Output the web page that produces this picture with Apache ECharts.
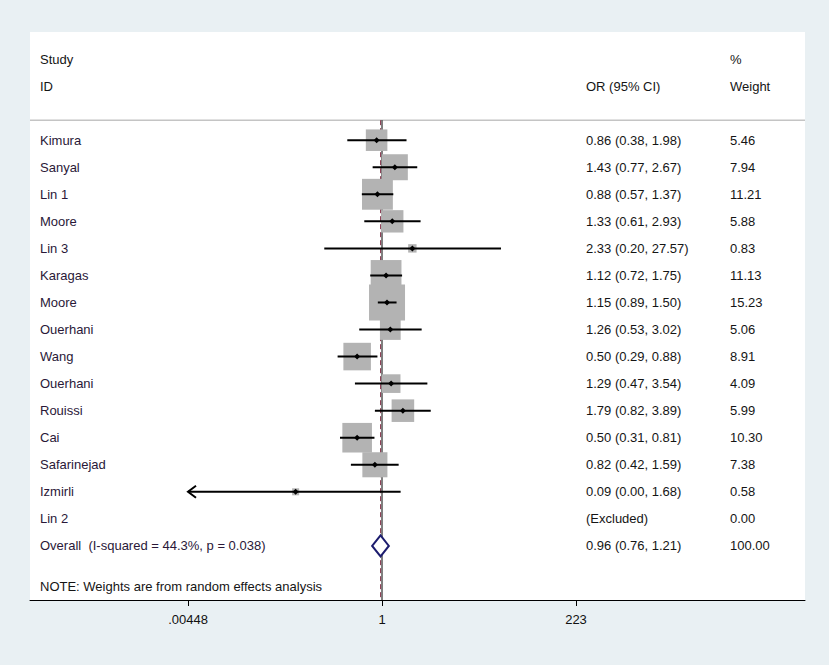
<!DOCTYPE html>
<html>
<head>
<meta charset="utf-8">
<script src="https://cdn.jsdelivr.net/npm/echarts@6/dist/echarts.min.js"></script>
<style>
html,body{margin:0;padding:0;background:#e9f0f3;}
#chart{width:829px;height:665px;}
</style>
</head>
<body>
<div id="chart"></div>
<script>
// ---- data ----
const studies = ['Kimura','Sanyal','Lin 1','Moore','Lin 3','Karagas','Moore','Ouerhani','Wang','Ouerhani','Rouissi','Cai','Safarinejad','Izmirli','Lin 2'];
const oddsRatio = [0.86,1.43,0.88,1.33,2.33,1.12,1.15,1.26,0.50,1.29,1.79,0.50,0.82,0.09,null];
const ciLower   = [0.38,0.77,0.57,0.61,0.20,0.72,0.89,0.53,0.29,0.47,0.82,0.31,0.42,0.00,null];
const ciUpper   = [1.98,2.67,1.37,2.93,27.57,1.75,1.50,3.02,0.88,3.54,3.89,0.81,1.59,1.68,null];
const weights   = [5.46,7.94,11.21,5.88,0.83,11.13,15.23,5.06,8.91,4.09,5.99,10.30,7.38,0.58,0.00];
const overallLabel = 'Overall  (I-squared = 44.3%, p = 0.038)';
const overallOR = 0.96, overallLower = 0.76, overallUpper = 1.21, overallWeight = 100.00;
const tickValues = [0.00448, 1, 223];
const tickLabels = ['.00448', '1', '223'];
const headerLeft = ['Study', 'ID'];
const headerCI = 'OR (95% CI)';
const headerWeight = ['%', 'Weight'];
const noteText = 'NOTE: Weights are from random effects analysis';

// ---- layout constants ----
const FONT = '"Liberation Sans", Arial, sans-serif';
const FS = 13;
const X_NAME = 40, X_CI = 586, X_W = 730;
const HEADER_LINE_ROW = -0.74, OVERALL_ROW = studies.length, NOTE_ROW = studies.length + 1.5;
const lg = v => Math.log10(v);
const tickLog = tickValues.map(lg);
const clipMin = tickLog[0], clipMax = tickLog[tickLog.length - 1];
const maxW = Math.max(...weights);
const X_MIN = -4.2615, X_MAX = 5.1207;

const chart = echarts.init(document.getElementById('chart'), null, {renderer: 'svg'});

function txt(t, x, y, color) {
  return {type: 'text', style: {text: t, x: x, y: y, fill: color || '#151515', fontSize: FS, fontFamily: FONT, verticalAlign: 'middle', align: 'left'}};
}
function ciString(i) {
  if (oddsRatio[i] == null) return '(Excluded)';
  return oddsRatio[i].toFixed(2) + ' (' + ciLower[i].toFixed(2) + ', ' + ciUpper[i].toFixed(2) + ')';
}

const option = {
  animation: false,
  backgroundColor: '#e9f0f3',
  grid: {left: 30, right: 24, top: 32, bottom: 65, show: true, backgroundColor: '#ffffff', borderWidth: 0},
  xAxis: {
    type: 'value', min: X_MIN, max: X_MAX,
    splitLine: {show: false},
    axisLine: {show: true, onZero: false, lineStyle: {color: '#000', width: 1}},
    axisTick: {show: true, length: 6, customValues: tickLog, lineStyle: {color: '#000'}},
    axisLabel: {
      show: true, margin: 13, color: '#111', fontSize: FS, fontFamily: FONT,
      customValues: tickLog,
      formatter: function (v) {
        let best = 0;
        tickLog.forEach((t, k) => { if (Math.abs(t - v) < Math.abs(tickLog[best] - v)) best = k; });
        return tickLabels[best];
      }
    }
  },
  yAxis: {type: 'value', min: -4, max: 17, inverse: true, show: false},
  series: [
    // reference lines
    {
      type: 'custom', z: 1, clip: false,
      data: [[0]],
      renderItem: function (params, api) {
        const top = api.coord([0, HEADER_LINE_ROW])[1];
        const bottom = api.coord([0, 17])[1];
        const left = api.coord([X_MIN, 0])[0];
        const right = api.coord([X_MAX, 0])[0];
        const xNull = api.coord([0, 0])[0];
        const xOv = api.coord([lg(overallOR), 0])[0];
        return {type: 'group', children: [
          {type: 'line', shape: {x1: left, y1: top, x2: right, y2: top}, style: {stroke: '#c4c4c4', lineWidth: 1.5}},
          {type: 'line', shape: {x1: xNull, y1: top, x2: xNull, y2: bottom}, style: {stroke: '#000', lineWidth: 1}},
          {type: 'line', shape: {x1: xOv, y1: top, x2: xOv, y2: bottom}, style: {stroke: '#8a3a50', lineWidth: 1, lineDash: [5, 3]}}
        ]};
      }
    },
    // study boxes
    {
      type: 'custom', z: 3, clip: false,
      data: studies.map((s, i) => [i]),
      renderItem: function (params, api) {
        const i = params.dataIndex;
        if (oddsRatio[i] == null) return null;
        const p = api.coord([lg(oddsRatio[i]), i]);
        const side = 36 * Math.sqrt(weights[i] / maxW);
        return {type: 'rect', shape: {x: p[0] - side / 2, y: p[1] - side / 2, width: side, height: side}, style: {fill: '#b3b3b3'}};
      }
    },
    // CI lines and point estimates
    {
      type: 'custom', z: 5, clip: false,
      data: studies.map((s, i) => [i]),
      renderItem: function (params, api) {
        const i = params.dataIndex;
        if (oddsRatio[i] == null) return null;
        const loClipped = !(ciLower[i] > 0) || lg(ciLower[i]) < clipMin;
        const hiClipped = lg(ciUpper[i]) > clipMax;
        const lo = loClipped ? clipMin : lg(ciLower[i]);
        const hi = hiClipped ? clipMax : lg(ciUpper[i]);
        const a = api.coord([lo, i]), b = api.coord([hi, i]);
        const p = api.coord([lg(oddsRatio[i]), i]);
        const children = [
          {type: 'line', shape: {x1: a[0], y1: a[1], x2: b[0], y2: b[1]}, style: {stroke: '#000', lineWidth: 2}},
          {type: 'polygon', shape: {points: [[p[0] - 3, p[1]], [p[0], p[1] - 3], [p[0] + 3, p[1]], [p[0], p[1] + 3]]}, style: {fill: '#000'}}
        ];
        if (loClipped) {
          children.push({type: 'polyline', shape: {points: [[a[0] + 8, a[1] - 6], [a[0], a[1]], [a[0] + 8, a[1] + 6]]}, style: {stroke: '#000', lineWidth: 2, fill: null}});
        }
        if (hiClipped) {
          children.push({type: 'polyline', shape: {points: [[b[0] - 8, b[1] - 6], [b[0], b[1]], [b[0] - 8, b[1] + 6]]}, style: {stroke: '#000', lineWidth: 2, fill: null}});
        }
        return {type: 'group', children: children};
      }
    },
    // overall diamond
    {
      type: 'custom', z: 5, clip: false,
      data: [[OVERALL_ROW]],
      renderItem: function (params, api) {
        const l = api.coord([lg(overallLower), OVERALL_ROW]);
        const r = api.coord([lg(overallUpper), OVERALL_ROW]);
        const c = api.coord([lg(overallOR), OVERALL_ROW]);
        const h = 10.5;
        return {type: 'polygon', shape: {points: [[l[0], l[1]], [c[0], c[1] - h], [r[0], r[1]], [c[0], c[1] + h]]},
          style: {stroke: '#1c1c6e', lineWidth: 2, fill: '#ffffff'}};
      }
    },
    // text columns
    {
      type: 'custom', z: 6, clip: false,
      data: [[0]],
      renderItem: function (params, api) {
        const y = row => api.coord([0, row])[1];
        const ch = [];
        ch.push(txt(headerLeft[0], X_NAME, y(-3)));
        ch.push(txt(headerLeft[1], X_NAME, y(-2)));
        ch.push(txt(headerCI, X_CI, y(-2)));
        ch.push(txt(headerWeight[0], X_W, y(-3)));
        ch.push(txt(headerWeight[1], X_W, y(-2)));
        studies.forEach((s, i) => {
          ch.push(txt(s, X_NAME, y(i), '#2a1838'));
          ch.push(txt(ciString(i), X_CI, y(i)));
          ch.push(txt(weights[i].toFixed(2), X_W, y(i)));
        });
        ch.push(txt(overallLabel, X_NAME, y(OVERALL_ROW), '#2a1838'));
        ch.push(txt(overallOR.toFixed(2) + ' (' + overallLower.toFixed(2) + ', ' + overallUpper.toFixed(2) + ')', X_CI, y(OVERALL_ROW)));
        ch.push(txt(overallWeight.toFixed(2), X_W, y(OVERALL_ROW)));
        ch.push(txt(noteText, X_NAME, y(NOTE_ROW)));
        return {type: 'group', children: ch};
      }
    }
  ]
};
chart.setOption(option);
</script>
</body>
</html>
